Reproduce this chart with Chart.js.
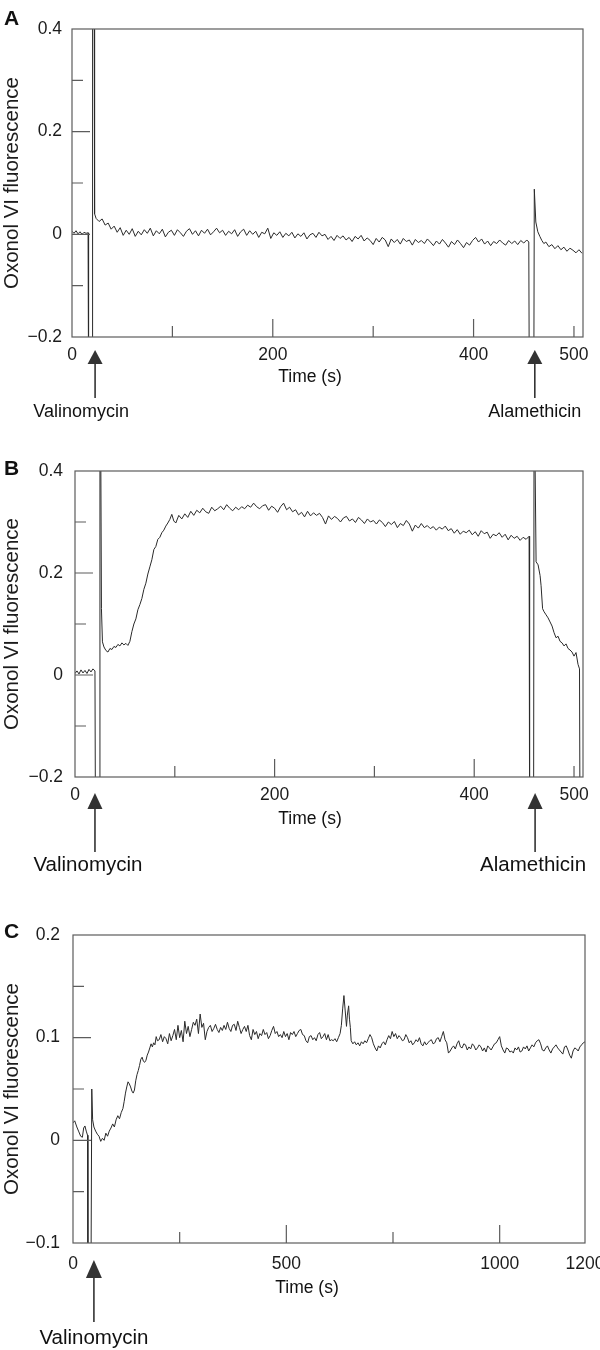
<!DOCTYPE html>
<html>
<head>
<meta charset="utf-8">
<title>Oxonol VI fluorescence</title>
<script src="https://cdn.jsdelivr.net/npm/chart.js@4.4.1/dist/chart.umd.min.js"></script>
<style>
  html, body { margin: 0; padding: 0; background: #fff; }
  canvas { display: block; }
</style>
</head>
<body>
<canvas id="chartA" width="600" height="440"></canvas>
<canvas id="chartB" width="600" height="450"></canvas>
<canvas id="chartC" width="600" height="460"></canvas>
<script>
// ---- panel A data (time in s, fluorescence) ----
const timeA = [
  0, 2, 4, 6, 8, 10, 12, 14, 16, 16.5,
  20, 20.5, 22, 22.5, 24, 27, 30, 33, 36, 39,
  42, 45, 48, 51, 54, 57, 60, 63, 66, 69,
  72, 75, 78, 81, 84, 87, 90, 93, 96, 99,
  102, 105, 108, 111, 114, 117, 120, 123, 126, 129,
  132, 135, 138, 141, 144, 147, 150, 153, 156, 159,
  162, 165, 168, 171, 174, 177, 180, 183, 186, 189,
  192, 195, 198, 201, 204, 207, 210, 213, 216, 219,
  222, 225, 228, 231, 234, 237, 240, 243, 246, 249,
  252, 255, 258, 261, 264, 267, 270, 273, 276, 279,
  282, 285, 288, 291, 294, 297, 300, 303, 306, 309,
  312, 315, 318, 321, 324, 327, 330, 333, 336, 339,
  342, 345, 348, 351, 354, 357, 360, 363, 366, 369,
  372, 375, 378, 381, 384, 387, 390, 393, 396, 399,
  402, 405, 408, 411, 414, 417, 420, 423, 426, 429,
  432, 435, 438, 441, 444, 447, 450, 453, 455, 455.5,
  460, 460.5, 462, 464, 466, 468, 470, 472, 475, 478,
  481, 484, 487, 490, 493, 496, 499, 502, 505, 508
];
const fluorA = [
  0.006, 0.002, 0.007, 0.001, 0.005, 0.000, 0.004, 0.002, 0.003, -0.3,
  -0.3, 0.6, 0.6, 0.04, 0.031, 0.025, 0.030, 0.018, 0.022, 0.010,
  0.016, 0.004, 0.013, -0.002, 0.008, 0.000, 0.011, -0.004, 0.006, -0.001,
  0.009, 0.002, 0.012, -0.003, 0.007, 0.001, 0.010, -0.005, 0.004, 0.008,
  -0.002, 0.009, 0.003, -0.004, 0.006, 0.011, 0.000, 0.007, -0.003, 0.008,
  0.002, 0.010, -0.001, 0.005, 0.012, 0.003, 0.008, -0.002, 0.006, 0.001,
  0.009, -0.004, 0.005, 0.010, -0.002, 0.007, 0.000, 0.006, -0.006, 0.004,
  0.001, 0.012, -0.008, 0.003, -0.002, 0.005, -0.006, 0.002, -0.003, 0.004,
  -0.007, 0.001, -0.004, 0.003, -0.009, -0.001, 0.002, -0.006, 0.004, -0.003,
  0.000, -0.010, -0.004, -0.012, -0.002, -0.008, -0.003, -0.011, -0.006, -0.014,
  -0.004, -0.009, -0.002, -0.013, -0.007, -0.012, -0.020, -0.008, -0.015, -0.006,
  -0.011, -0.024, -0.009, -0.016, -0.010, -0.019, -0.008, -0.014, -0.011, -0.021,
  -0.010, -0.016, -0.012, -0.018, -0.009, -0.015, -0.022, -0.013, -0.019, -0.010,
  -0.017, -0.025, -0.014, -0.020, -0.011, -0.018, -0.026, -0.016, -0.021, -0.012,
  -0.006, -0.015, -0.009, -0.019, -0.013, -0.022, -0.014, -0.018, -0.011, -0.017,
  -0.021, -0.012, -0.018, -0.013, -0.020, -0.012, -0.017, -0.011, -0.015, -0.3,
  -0.3, 0.088, 0.024, 0.005, -0.004, -0.012, -0.018, -0.015, -0.024, -0.020,
  -0.028, -0.022, -0.030, -0.025, -0.033, -0.027, -0.031, -0.036, -0.030, -0.037
];

// ---- panel B data ----
const timeB = [
  0, 2, 4, 6, 8, 10, 12, 14, 16, 18,
  20, 20.5, 24.5, 25, 25.5, 26.5, 27.5, 29, 31, 33,
  35, 37, 39, 41, 43, 45, 47, 49, 51, 53,
  55, 57, 59, 61, 63, 65, 67, 69, 71, 73,
  75, 77, 79, 81, 83, 85, 87, 89, 91, 93,
  95, 97, 99, 101, 104, 107, 110, 113, 116, 119,
  122, 125, 128, 131, 134, 137, 140, 143, 146, 149,
  152, 155, 158, 161, 164, 167, 170, 173, 176, 179,
  182, 185, 188, 191, 194, 197, 200, 203, 206, 209,
  212, 215, 218, 221, 224, 227, 230, 233, 236, 239,
  242, 245, 248, 251, 254, 257, 260, 263, 266, 269,
  272, 275, 278, 281, 284, 287, 290, 293, 296, 299,
  302, 305, 308, 311, 314, 317, 320, 323, 326, 329,
  332, 335, 338, 341, 344, 347, 350, 353, 356, 359,
  362, 365, 368, 371, 374, 377, 380, 383, 386, 389,
  392, 395, 398, 401, 404, 407, 410, 413, 416, 419,
  422, 425, 428, 431, 434, 437, 440, 443, 446, 449,
  452, 455, 455.5, 459.5, 460, 460.5, 462, 464, 466, 467,
  468.5, 470, 472, 474, 476, 478, 480, 482, 484, 486,
  488, 490, 492, 494, 496, 498, 500, 502, 504, 505.5,
  506, 509
];
const fluorB = [
  0.003, 0.008, 0.002, 0.010, 0.004, 0.009, 0.003, 0.011, 0.006, 0.012,
  0.008, -0.3, -0.3, 0.6, 0.6, 0.13, 0.065, 0.055, 0.048, 0.045,
  0.052, 0.050, 0.056, 0.054, 0.060, 0.057, 0.063, 0.059, 0.062, 0.058,
  0.066, 0.085, 0.100, 0.110, 0.128, 0.138, 0.150, 0.168, 0.180, 0.198,
  0.212, 0.226, 0.246, 0.252, 0.266, 0.270, 0.279, 0.284, 0.292, 0.298,
  0.305, 0.315, 0.302, 0.298, 0.313, 0.306, 0.316, 0.309, 0.321, 0.313,
  0.323, 0.318, 0.327, 0.320, 0.317, 0.329, 0.322, 0.326, 0.331, 0.324,
  0.334, 0.327, 0.322, 0.329, 0.324, 0.330, 0.326, 0.333, 0.329, 0.337,
  0.330, 0.326, 0.332, 0.334, 0.323, 0.331, 0.327, 0.319, 0.330, 0.337,
  0.324, 0.329, 0.320, 0.324, 0.314, 0.319, 0.310, 0.321, 0.312, 0.318,
  0.313, 0.317, 0.309, 0.296, 0.312, 0.305, 0.311, 0.307, 0.300, 0.308,
  0.311, 0.302, 0.306, 0.299, 0.309, 0.304, 0.297, 0.306, 0.300, 0.303,
  0.296, 0.304, 0.299, 0.291, 0.300, 0.295, 0.301, 0.289, 0.297, 0.293,
  0.303, 0.296, 0.282, 0.294, 0.288, 0.297, 0.289, 0.293, 0.287, 0.291,
  0.284, 0.290, 0.286, 0.292, 0.283, 0.287, 0.278, 0.285, 0.276, 0.282,
  0.279, 0.284, 0.275, 0.281, 0.272, 0.283, 0.277, 0.280, 0.268, 0.276,
  0.273, 0.279, 0.270, 0.276, 0.265, 0.274, 0.268, 0.272, 0.264, 0.270,
  0.266, 0.272, -0.3, -0.3, 0.6, 0.6, 0.222, 0.216, 0.195, 0.175,
  0.130, 0.124, 0.118, 0.112, 0.104, 0.096, 0.083, 0.073, 0.076, 0.066,
  0.063, 0.057, 0.061, 0.052, 0.049, 0.045, 0.037, 0.044, 0.021, 0.012,
  -0.3, -0.3
];

// ---- panel C data ----
const timeC = [
  0, 4, 9, 13, 18, 22, 25, 28, 31, 34,
  35, 42, 44, 46, 49, 53, 57, 61, 65, 69,
  73, 77, 81, 85, 89, 93, 97, 101, 105, 109,
  113, 117, 120, 123, 126, 129, 132, 135, 138, 141,
  144, 147, 150, 153, 156, 159, 162, 165, 168, 171,
  174, 177, 180, 183, 186, 189, 192, 195, 198, 202,
  206, 210, 214, 218, 222, 226, 230, 234, 238, 242,
  246, 250, 254, 258, 262, 266, 270, 274, 278, 282,
  286, 290, 294, 298, 302, 306, 310, 314, 318, 322,
  326, 330, 334, 338, 342, 346, 350, 354, 358, 362,
  366, 370, 374, 378, 382, 386, 390, 394, 398, 402,
  406, 410, 414, 418, 422, 426, 430, 434, 438, 442,
  446, 450, 454, 458, 462, 466, 470, 474, 478, 482,
  486, 490, 494, 498, 502, 506, 510, 514, 518, 522,
  526, 530, 534, 538, 542, 546, 550, 554, 558, 562,
  566, 570, 574, 578, 582, 586, 590, 594, 598, 602,
  606, 610, 614, 618, 622, 626, 629, 632, 635, 638,
  641, 643, 646, 648, 650, 652, 656, 660, 664, 668,
  672, 676, 680, 684, 688, 692, 696, 700, 704, 708,
  712, 716, 720, 724, 728, 732, 736, 740, 744, 748,
  752, 756, 760, 764, 768, 772, 776, 780, 784, 788,
  792, 796, 800, 804, 808, 812, 816, 820, 824, 828,
  832, 836, 840, 844, 848, 852, 856, 860, 864, 868,
  872, 876, 880, 884, 888, 892, 896, 900, 904, 908,
  912, 916, 920, 924, 928, 932, 936, 940, 944, 948,
  952, 956, 960, 964, 968, 972, 976, 980, 984, 988,
  992, 996, 1000, 1004, 1008, 1012, 1016, 1020, 1024, 1028,
  1032, 1036, 1040, 1044, 1048, 1052, 1056, 1060, 1064, 1068,
  1072, 1076, 1080, 1084, 1088, 1092, 1096, 1100, 1104, 1108,
  1112, 1116, 1120, 1124, 1128, 1132, 1136, 1140, 1144, 1148,
  1152, 1156, 1160, 1164, 1168, 1172, 1176, 1180, 1184, 1188,
  1192, 1196, 1200
];
const fluorC = [
  0.017, 0.019, 0.013, 0.009, 0.004, 0.003, 0.012, 0.014, 0.009, 0.005,
  -0.15, -0.15, 0.050, 0.020, 0.013, 0.009, 0.006, 0.004, -0.001, 0.002,
  0.000, 0.007, 0.004, 0.009, 0.012, 0.016, 0.013, 0.020, 0.024, 0.021,
  0.027, 0.031, 0.038, 0.046, 0.052, 0.057, 0.055, 0.052, 0.048, 0.046,
  0.049, 0.058, 0.064, 0.068, 0.073, 0.079, 0.081, 0.077, 0.076, 0.078,
  0.083, 0.086, 0.090, 0.094, 0.091, 0.095, 0.093, 0.101, 0.097, 0.098,
  0.103, 0.096, 0.101, 0.099, 0.094, 0.104, 0.097, 0.102, 0.108, 0.098,
  0.112, 0.100, 0.107, 0.096, 0.116, 0.104, 0.111, 0.101, 0.108, 0.115,
  0.112, 0.118, 0.104, 0.123, 0.110, 0.114, 0.098, 0.106, 0.110, 0.112,
  0.106, 0.109, 0.113, 0.108, 0.105, 0.110, 0.107, 0.112, 0.108, 0.115,
  0.109, 0.106, 0.112, 0.113, 0.107, 0.116, 0.110, 0.104, 0.108, 0.111,
  0.106, 0.112, 0.102, 0.098, 0.108, 0.103, 0.106, 0.099, 0.104, 0.102,
  0.108, 0.103, 0.105, 0.099, 0.102, 0.107, 0.111, 0.104, 0.106, 0.101,
  0.103, 0.100, 0.106, 0.101, 0.104, 0.098, 0.105, 0.103, 0.106, 0.101,
  0.104, 0.107, 0.108, 0.103, 0.102, 0.097, 0.095, 0.101, 0.102, 0.098,
  0.100, 0.097, 0.103, 0.105, 0.099, 0.101, 0.104, 0.098, 0.103, 0.097,
  0.098, 0.097, 0.099, 0.096, 0.100, 0.104, 0.112, 0.128, 0.141, 0.126,
  0.111, 0.122, 0.131, 0.118, 0.110, 0.097, 0.094, 0.096, 0.093, 0.095,
  0.092, 0.096, 0.094, 0.097, 0.095, 0.099, 0.103, 0.100, 0.094, 0.090,
  0.087, 0.092, 0.090, 0.094, 0.096, 0.093, 0.098, 0.102, 0.099, 0.106,
  0.101, 0.104, 0.099, 0.102, 0.100, 0.097, 0.098, 0.103, 0.100, 0.095,
  0.097, 0.093, 0.095, 0.098, 0.096, 0.100, 0.094, 0.092, 0.096, 0.093,
  0.095, 0.097, 0.098, 0.094, 0.095, 0.099, 0.100, 0.096, 0.101, 0.106,
  0.098, 0.095, 0.085, 0.087, 0.090, 0.092, 0.089, 0.094, 0.097, 0.091,
  0.090, 0.094, 0.093, 0.088, 0.091, 0.089, 0.094, 0.092, 0.088, 0.090,
  0.093, 0.091, 0.087, 0.090, 0.086, 0.092, 0.090, 0.088, 0.091, 0.094,
  0.095, 0.098, 0.101, 0.092, 0.088, 0.085, 0.090, 0.089, 0.086, 0.087,
  0.085, 0.090, 0.088, 0.091, 0.086, 0.087, 0.091, 0.089, 0.092, 0.087,
  0.090, 0.093, 0.091, 0.095, 0.097, 0.098, 0.094, 0.088, 0.087, 0.090,
  0.092, 0.088, 0.085, 0.089, 0.091, 0.093, 0.090, 0.088, 0.086, 0.084,
  0.091, 0.092, 0.088, 0.083, 0.080, 0.087, 0.090, 0.089, 0.087, 0.091,
  0.093, 0.095, 0.096
];

// ---- axis ticks ----
const xLabelsAB = [0, 200, 400, 500];
const xMajorAB = [200, 400];
const xMinorAB = [100, 300, 500];
const yLabelsAB = [-0.2, 0, 0.2, 0.4];
const yMajorAB = [0, 0.2];
const yMinorAB = [-0.1, 0.1, 0.3];

const xLabelsC = [0, 500, 1000, 1200];
const xMajorC = [500, 1000];
const xMinorC = [250, 750];
const yLabelsC = [-0.1, 0, 0.1, 0.2];
const yMajorC = [0, 0.1];
const yMinorC = [-0.05, 0.05, 0.15];

// ---- additions (arrows under the time axis) ----
const eventsAB = ['Valinomycin', 'Alamethicin'];
const eventTimesA = [23, 461];
const eventTimesB = [20, 461];
const eventsC = ['Valinomycin'];
const eventTimesC = [49];

const FONT = "'Liberation Sans', Arial, Helvetica, sans-serif";
Chart.defaults.font.family = FONT;
Chart.defaults.color = '#1c1c1c';

function fmt(v) {
  const s = String(Math.abs(Math.round(v * 100) / 100));
  return v < 0 ? '\u2212' + s : s;
}

const panelPlugin = {
  id: 'panel',
  afterDraw(chart, args, o) {
    const { ctx, chartArea: a, scales: { x, y } } = chart;
    ctx.save();
    // frame + inward ticks
    ctx.strokeStyle = '#5c5c5c';
    ctx.lineWidth = 1.2;
    ctx.strokeRect(a.left, a.top, a.right - a.left, a.bottom - a.top);
    ctx.beginPath();
    o.xMajor.forEach(v => { const px = x.getPixelForValue(v); ctx.moveTo(px, a.bottom); ctx.lineTo(px, a.bottom - 18); });
    o.xMinor.forEach(v => { const px = x.getPixelForValue(v); ctx.moveTo(px, a.bottom); ctx.lineTo(px, a.bottom - 11); });
    o.yMajor.forEach(v => { const py = y.getPixelForValue(v); ctx.moveTo(a.left, py); ctx.lineTo(a.left + 18, py); });
    o.yMinor.forEach(v => { const py = y.getPixelForValue(v); ctx.moveTo(a.left, py); ctx.lineTo(a.left + 11, py); });
    ctx.stroke();

    ctx.fillStyle = '#111';
    ctx.font = 'bold 21px ' + FONT;
    ctx.textAlign = 'left';
    ctx.textBaseline = 'alphabetic';
    ctx.fillText(o.letter, 4, o.letterY);

    ctx.font = '17.5px ' + FONT;
    ctx.textAlign = 'center';
    ctx.textBaseline = 'middle';
    ctx.fillText('Time (s)', o.xTitle[0], o.xTitle[1]);

    // arrows with drug names
    o.events.forEach((name, i) => {
      const px = x.getPixelForValue(o.eventTimes[i]);
      const top = a.bottom + o.head[0];
      ctx.fillStyle = '#333';
      ctx.beginPath();
      ctx.moveTo(px, top);
      ctx.lineTo(px - o.head[2] / 2, top + o.head[1]);
      ctx.lineTo(px + o.head[2] / 2, top + o.head[1]);
      ctx.closePath();
      ctx.fill();
      ctx.strokeStyle = '#333';
      ctx.lineWidth = 1.6;
      ctx.beginPath();
      ctx.moveTo(px, top + o.head[1] - 1);
      ctx.lineTo(px, a.bottom + o.shaftEnd);
      ctx.stroke();
      ctx.fillStyle = '#111';
      ctx.font = o.annFont + 'px ' + FONT;
      ctx.fillText(name, px + o.labelDx[i], a.bottom + o.labelY);
    });
    ctx.restore();
  }
};

function makeChart(id, p) {
  return new Chart(document.getElementById(id), {
    type: 'line',
    data: {
      datasets: [{
        data: p.times.map((t, i) => ({ x: t, y: p.values[i] })),
        borderColor: '#2a2a2a',
        borderWidth: 1,
        pointRadius: 0,
        tension: 0,
        fill: false
      }]
    },
    options: {
      responsive: false,
      animation: false,
      events: [],
      layout: { padding: { top: p.top, right: p.right, left: 0, bottom: 0 } },
      plugins: {
        legend: { display: false },
        tooltip: { enabled: false },
        panel: p.deco
      },
      scales: {
        x: {
          type: 'linear',
          min: 0,
          max: p.xMax,
          grid: { display: false, drawTicks: false },
          border: { display: false },
          afterBuildTicks: s => { s.ticks = p.xLabels.map(v => ({ value: v })); },
          afterFit: s => { s.height = p.xAxisH; s.paddingLeft = 0; s.paddingRight = 0; },
          ticks: { autoSkip: false, maxRotation: 0, padding: p.xTickPad, font: { size: 17.5 }, callback: v => fmt(v) }
        },
        y: {
          type: 'linear',
          min: p.yMin,
          max: p.yMax,
          grid: { display: false, drawTicks: false },
          border: { display: false },
          afterBuildTicks: s => { s.ticks = p.yLabels.map(v => ({ value: v })); },
          afterFit: s => { s.width = p.yAxisW; s.paddingTop = 0; s.paddingBottom = 0; },
          ticks: { autoSkip: false, padding: p.yTickPad, font: { size: 17.5 }, callback: v => fmt(v) },
          title: { display: true, text: 'Oxonol VI fluorescence', font: { size: 20.5 }, padding: 0, color: '#1c1c1c' }
        }
      }
    },
    plugins: [panelPlugin]
  });
}

makeChart('chartA', {
  times: timeA, values: fluorA, xLabels: xLabelsAB, yLabels: yLabelsAB,
  xMax: 509, yMin: -0.2, yMax: 0.4,
  top: 29, right: 17, xAxisH: 103, yAxisW: 72, xTickPad: 8, yTickPad: 10,
  deco: {
    letter: 'A', letterY: 25, xTitle: [310, 377],
    xMajor: xMajorAB, xMinor: xMinorAB, yMajor: yMajorAB, yMinor: yMinorAB,
    events: eventsAB, eventTimes: eventTimesA, labelDx: [-14, 0],
    head: [13, 14, 15], shaftEnd: 61, labelY: 75, annFont: 18
  }
});

makeChart('chartB', {
  times: timeB, values: fluorB, xLabels: xLabelsAB, yLabels: yLabelsAB,
  xMax: 509, yMin: -0.2, yMax: 0.4,
  top: 31, right: 17, xAxisH: 113, yAxisW: 75, xTickPad: 8, yTickPad: 12,
  deco: {
    letter: 'B', letterY: 35, xTitle: [310, 379],
    xMajor: xMajorAB, xMinor: xMinorAB, yMajor: yMajorAB, yMinor: yMinorAB,
    events: eventsAB, eventTimes: eventTimesB, labelDx: [-7, -2],
    head: [16, 16, 15], shaftEnd: 75, labelY: 88, annFont: 20.5
  }
});

makeChart('chartC', {
  times: timeC, values: fluorC, xLabels: xLabelsC, yLabels: yLabelsC,
  xMax: 1200, yMin: -0.1, yMax: 0.2,
  top: 45, right: 15, xAxisH: 107, yAxisW: 73, xTickPad: 11, yTickPad: 13,
  deco: {
    letter: 'C', letterY: 48, xTitle: [307, 398],
    xMajor: xMajorC, xMinor: xMinorC, yMajor: yMajorC, yMinor: yMinorC,
    events: eventsC, eventTimes: eventTimesC, labelDx: [0],
    head: [17, 18, 16], shaftEnd: 79, labelY: 95, annFont: 20.5
  }
});
</script>
</body>
</html>
